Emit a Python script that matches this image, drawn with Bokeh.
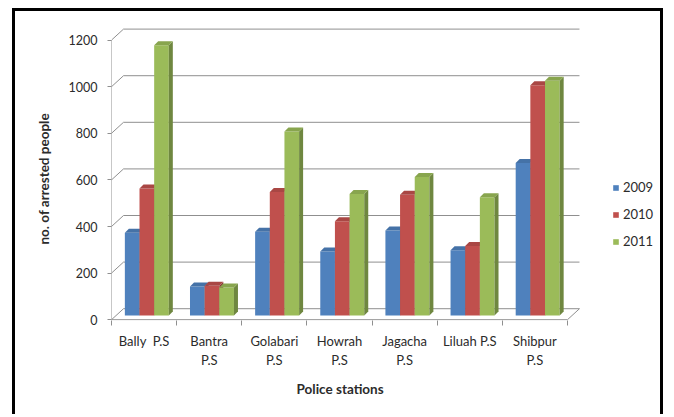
from bokeh.plotting import figure
from bokeh.models import Range1d, FixedTicker, Legend, LegendItem, Title
from bokeh.embed import file_html
from bokeh.resources import INLINE

# ---------------- data ----------------
stations = ["Bally  P.S", "Bantra P.S", "Golabari P.S", "Howrah P.S",
            "Jagacha P.S", "Liluah P.S", "Shibpur P.S"]
tick_labels = ["Bally\u00a0\u00a0P.S", "Bantra\nP.S", "Golabari\nP.S", "Howrah\nP.S",
               "Jagacha\nP.S", "Liluah P.S", "Shibpur\nP.S"]
years = ["2009", "2010", "2011"]
v2009 = [355, 125, 360, 275, 365, 280, 655]
v2010 = [545, 128, 530, 405, 518, 298, 988]
v2011 = [1160, 120, 790, 522, 595, 508, 1008]
y_ticks = [0, 200, 400, 600, 800, 1000, 1200]

# ---------------- style ----------------
FONT = "Lato"
TXT = "#2b2b2b"
GRID = "#8f8f8f"
front_cols = ["#4F81BD", "#C0504D", "#9BBB59"]
top_cols = ["#4572A7", "#A94744", "#88A54E"]
side_cols = ["#395D89", "#8A3A38", "#6F8740"]

PX_X = 65.14          # px per category unit
PX_Y = 0.233          # px per value unit
dx = 12 / PX_X        # depth of the 3-D box
dy = 11 / PX_Y
sx = 4 / PX_X         # depth of a bar
sy = 4 / PX_Y
base = 18.0           # bars stand in the middle of the floor
bw = 0.225
goff = 0.205

W, H = 651, 406
p = figure(width=W, height=H, output_backend="svg", toolbar_location=None,
           x_range=Range1d(0, 551 / PX_X), y_range=Range1d(-3.4, -3.4 + 300 / PX_Y),
           min_border_left=96, min_border_right=4, min_border_top=9,
           min_border_bottom=97)
p.styles = {"border-left": "3px solid black", "border-top": "3px solid black",
            "border-right": "3px solid black", "border-bottom": "0px none white",
            "margin-left": "12px", "margin-top": "8px", "box-shadow": "none",
            "outline": "none"}
p.outline_line_color = None
p.background_fill_color = "white"
p.border_fill_color = "white"
p.xgrid.visible = False
p.ygrid.visible = False

# y axis
ya = p.yaxis[0]
ya.ticker = FixedTicker(ticks=y_ticks)
ya.axis_line_color = None
ya.major_tick_out = 4
ya.major_tick_in = 0
ya.minor_tick_out = 0
ya.minor_tick_in = 0
ya.major_tick_line_color = GRID
ya.major_label_standoff = 10
ya.major_label_text_font = FONT
ya.major_label_text_font_size = "12.5px"
ya.major_label_text_color = TXT

# x axis
n = len(stations)
xa = p.xaxis[0]
xa.ticker = FixedTicker(ticks=[i + 0.5 for i in range(n)],
                        minor_ticks=list(range(n + 1)))
xa.major_label_overrides = {i + 0.5: tick_labels[i] for i in range(n)}
xa.axis_line_color = None
xa.major_tick_out = 0
xa.major_tick_in = 0
xa.minor_tick_out = 5
xa.minor_tick_in = 0
xa.minor_tick_line_color = GRID
xa.major_label_standoff = 7
xa.major_label_text_font = FONT
xa.major_label_text_font_size = "13px"
xa.major_label_text_color = TXT

# 3-D frame: back wall gridlines, left wall diagonals, floor
p.segment(x0=[dx] * len(y_ticks), y0=[v + dy for v in y_ticks],
          x1=[n + dx] * len(y_ticks), y1=[v + dy for v in y_ticks],
          line_color=GRID, line_width=1)
p.segment(x0=[0] * len(y_ticks), y0=y_ticks,
          x1=[dx] * len(y_ticks), y1=[v + dy for v in y_ticks],
          line_color=GRID, line_width=1)
p.segment(x0=[0, 0, n], y0=[0, 0, 0], x1=[0, n, n + dx], y1=[y_ticks[-1], 0, dy],
          line_color=GRID, line_width=1)

# bars
series = [v2009, v2010, v2011]
items = []
for k, vals in enumerate(series):
    lefts = [i + goff + k * bw for i in range(n)]
    rights = [l + bw for l in lefts]
    tops = [base + v for v in vals]
    r = p.vbar(x=[(l + r_) / 2 for l, r_ in zip(lefts, rights)], width=bw,
               bottom=base, top=tops, fill_color=front_cols[k], line_color=None)
    side_xs = [[rr, rr + sx, rr + sx, rr] for rr in rights]
    side_ys = [[base, base + sy, t + sy, t] for t in tops]
    p.patches(side_xs, side_ys, fill_color=side_cols[k], line_color=None)
    top_xs = [[l, l + sx, rr + sx, rr] for l, rr in zip(lefts, rights)]
    top_ys = [[t, t + sy, t + sy, t] for t in tops]
    p.patches(top_xs, top_ys, fill_color=top_cols[k], line_color=None)
    items.append(LegendItem(label=years[k], renderers=[r]))

legend = Legend(items=items, location=(501, 69), padding=0, margin=0,
                border_line_color=None, background_fill_alpha=0,
                glyph_width=7, glyph_height=7, label_standoff=4,
                label_height=20, spacing=7,
                label_text_font=FONT, label_text_font_size="13px",
                label_text_color=TXT)
p.add_layout(legend)

# axis titles
p.add_layout(Title(text="no. of arrested people", align="left", offset=76,
                   vertical_align="bottom", standoff=28,
                   text_font=FONT, text_font_size="13.5px", text_font_style="bold",
                   text_color=TXT), "left")
p.add_layout(Title(text="Police stations", align="left", offset=185,
                   vertical_align="top", standoff=20,
                   text_font=FONT, text_font_size="13.5px", text_font_style="bold",
                   text_color=TXT), "below")

open("out.html", "w").write(file_html(p, INLINE))
